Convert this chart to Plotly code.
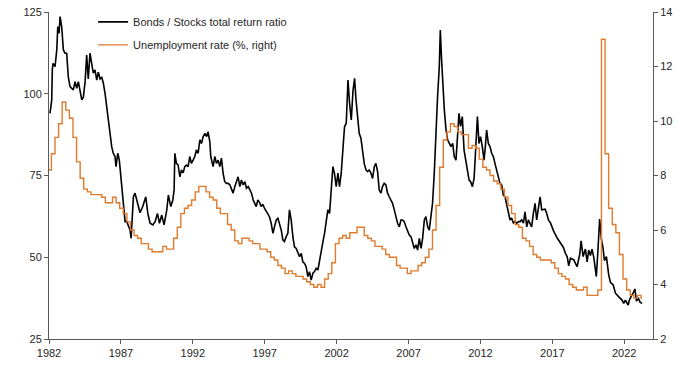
import plotly.graph_objects as go

# ---------------- data ----------------
# Bonds / Stocks total return ratio (left axis), decimal-year dates
ratio_dates = [
    1982.07, 1982.19, 1982.23, 1982.28, 1982.42, 1982.54, 1982.61, 1982.70, 1982.77, 1982.88,
    1983.00, 1983.11, 1983.23, 1983.34, 1983.46, 1983.58, 1983.69, 1983.81, 1983.93, 1984.04,
    1984.16, 1984.28, 1984.39, 1984.51, 1984.62, 1984.73, 1984.85, 1984.97, 1985.08, 1985.20,
    1985.32, 1985.43, 1985.55, 1985.67, 1985.78, 1985.90, 1986.02, 1986.13, 1986.25, 1986.36,
    1986.47, 1986.59, 1986.66, 1986.78, 1986.89, 1987.01, 1987.17, 1987.29, 1987.41, 1987.52,
    1987.64, 1987.71, 1987.80, 1987.87, 1987.98, 1988.10, 1988.21, 1988.33, 1988.52, 1988.73,
    1988.87, 1989.03, 1989.22, 1989.38, 1989.54, 1989.68, 1989.84, 1990.00, 1990.19, 1990.30,
    1990.47, 1990.61, 1990.70, 1990.75, 1990.86, 1990.98, 1991.10, 1991.21, 1991.33, 1991.44,
    1991.55, 1991.67, 1991.79, 1991.90, 1992.02, 1992.14, 1992.25, 1992.37, 1992.49, 1992.60,
    1992.72, 1992.84, 1992.96, 1993.06, 1993.18, 1993.25, 1993.41, 1993.53, 1993.64, 1993.76,
    1993.88, 1993.99, 1994.11, 1994.22, 1994.34, 1994.46, 1994.58, 1994.69, 1994.80, 1994.92,
    1995.03, 1995.15, 1995.27, 1995.38, 1995.50, 1995.62, 1995.73, 1995.85, 1995.97, 1996.08,
    1996.20, 1996.41, 1996.52, 1996.64, 1996.75, 1996.87, 1996.98, 1997.10, 1997.22, 1997.33,
    1997.45, 1997.57, 1997.68, 1997.80, 1997.92, 1998.03, 1998.15, 1998.26, 1998.37, 1998.49,
    1998.61, 1998.72, 1998.84, 1998.96, 1999.07, 1999.19, 1999.31, 1999.42, 1999.54, 1999.65,
    1999.77, 1999.88, 2000.00, 2000.11, 2000.23, 2000.35, 2000.46, 2000.58, 2000.70, 2000.81,
    2000.93, 2001.05, 2001.16, 2001.28, 2001.39, 2001.51, 2001.62, 2001.74, 2001.85, 2001.97,
    2002.09, 2002.20, 2002.32, 2002.44, 2002.55, 2002.67, 2002.79, 2002.90, 2003.02, 2003.14,
    2003.25, 2003.35, 2003.45, 2003.57, 2003.69, 2003.80, 2003.92, 2004.04, 2004.15, 2004.27,
    2004.39, 2004.50, 2004.62, 2004.73, 2004.85, 2004.96, 2005.08, 2005.19, 2005.31, 2005.43,
    2005.54, 2005.66, 2005.78, 2005.89, 2006.01, 2006.13, 2006.24, 2006.36, 2006.47, 2006.59,
    2006.70, 2006.82, 2006.93, 2007.05, 2007.17, 2007.28, 2007.40, 2007.52, 2007.63, 2007.75,
    2007.87, 2007.98, 2008.10, 2008.21, 2008.33, 2008.44, 2008.56, 2008.67, 2008.79, 2008.91,
    2009.02, 2009.14, 2009.21, 2009.30, 2009.37, 2009.49, 2009.61, 2009.72, 2009.84, 2009.95,
    2010.07, 2010.18, 2010.30, 2010.41, 2010.51, 2010.62, 2010.74, 2010.86, 2010.97, 2011.09,
    2011.21, 2011.32, 2011.44, 2011.56, 2011.67, 2011.79, 2011.90, 2012.01, 2012.13, 2012.25,
    2012.34, 2012.43, 2012.55, 2012.67, 2012.78, 2012.90, 2013.01, 2013.13, 2013.25, 2013.36,
    2013.48, 2013.59, 2013.71, 2013.82, 2013.94, 2014.06, 2014.17, 2014.29, 2014.41, 2014.52,
    2014.64, 2014.76, 2014.87, 2014.99, 2015.10, 2015.22, 2015.33, 2015.45, 2015.56, 2015.68,
    2015.80, 2015.91, 2016.03, 2016.15, 2016.26, 2016.38, 2016.50, 2016.61, 2016.73, 2016.87,
    2017.09, 2017.35, 2017.58, 2017.77, 2017.91, 2018.03, 2018.14, 2018.26, 2018.49, 2018.72,
    2018.90, 2019.00, 2019.14, 2019.30, 2019.42, 2019.53, 2019.65, 2019.76, 2019.88, 2019.99,
    2020.06, 2020.17, 2020.29, 2020.41, 2020.53, 2020.62, 2020.76, 2020.92, 2021.04, 2021.23,
    2021.39, 2021.62, 2021.85, 2021.96, 2022.08, 2022.27, 2022.36, 2022.50, 2022.62, 2022.74,
    2022.85, 2022.99, 2023.11, 2023.25,
]
ratio_values = [
    94.0, 98.1, 107.3, 109.3, 108.3, 113.4, 120.5, 118.5, 123.6, 120.5,
    113.4, 112.4, 112.4, 105.2, 102.2, 101.5, 101.2, 103.7, 101.7, 103.7,
    101.0, 98.1, 99.0, 103.7, 111.8, 104.5, 112.4, 109.6, 106.3, 107.3,
    104.2, 106.6, 104.5, 105.0, 103.2, 100.0, 96.0, 92.0, 86.9, 83.8,
    81.8, 80.8, 77.7, 81.8, 79.7, 73.6, 67.5, 60.9, 60.9, 59.9,
    58.3, 55.8, 63.3, 68.5, 69.6, 67.5, 66.0, 63.6, 65.5, 68.5,
    63.4, 60.4, 59.9, 60.9, 63.4, 60.4, 62.9, 59.9, 64.5, 69.0,
    65.5, 67.5, 70.6, 81.8, 78.7, 78.2, 74.6, 76.7, 75.8, 77.7,
    78.2, 77.7, 80.8, 78.7, 79.7, 80.8, 82.8, 81.8, 85.9, 84.8,
    86.9, 87.9, 86.9, 88.4, 85.4, 80.8, 77.7, 80.8, 78.7, 79.7,
    77.7, 80.3, 75.6, 73.1, 72.6, 72.6, 72.1, 70.6, 69.6, 71.6,
    73.1, 74.6, 71.6, 73.6, 72.1, 73.1, 71.1, 71.6, 70.6, 69.6,
    67.5, 65.5, 67.5, 66.8, 65.5, 66.2, 65.0, 64.2, 63.4, 62.4,
    60.4, 57.3, 59.3, 61.4, 61.9, 60.4, 58.3, 55.3, 54.8, 56.3,
    57.3, 64.5, 61.4, 56.2, 53.2, 52.7, 51.2, 50.2, 51.2, 48.6,
    48.1, 47.1, 44.1, 45.6, 43.0, 45.1, 45.6, 46.6, 46.1, 49.2,
    51.2, 54.8, 57.3, 60.4, 64.5, 63.4, 71.6, 77.7, 75.7, 71.6,
    75.7, 71.6, 75.7, 83.8, 89.9, 91.0, 104.2, 97.1, 92.0, 101.0,
    104.7, 98.1, 93.0, 87.9, 86.4, 82.8, 78.7, 76.7, 76.2, 76.7,
    75.7, 74.1, 77.7, 78.7, 76.2, 70.6, 69.6, 71.6, 72.6, 72.1,
    69.6, 68.5, 67.5, 66.5, 64.5, 62.4, 60.4, 59.3, 61.4, 61.4,
    60.9, 59.3, 58.3, 56.8, 56.3, 54.3, 52.7, 53.8, 52.2, 55.8,
    52.7, 55.8, 61.4, 62.4, 59.3, 58.3, 63.4, 66.5, 75.7, 89.9,
    99.1, 108.3, 119.5, 110.3, 103.2, 95.0, 88.9, 85.9, 84.8, 83.8,
    84.8, 80.8, 79.7, 87.9, 94.0, 90.0, 93.0, 82.8, 80.0, 76.7,
    73.6, 73.1, 71.6, 74.1, 81.8, 93.0, 84.8, 86.9, 83.8, 79.7,
    83.8, 88.9, 84.8, 83.8, 81.8, 80.8, 78.7, 76.7, 74.6, 72.6,
    72.1, 69.0, 68.5, 66.5, 63.4, 61.4, 62.0, 60.4, 61.0, 60.4,
    60.9, 60.9, 61.4, 60.4, 63.9, 59.3, 61.4, 60.4, 59.3, 63.4,
    66.5, 61.4, 64.5, 68.5, 64.5, 64.5, 64.7, 63.4, 61.4, 60.5,
    58.0, 55.8, 54.3, 53.0, 51.2, 50.2, 47.4, 49.7, 49.2, 47.1,
    50.7, 55.0, 50.2, 52.5, 48.6, 52.2, 50.5, 52.5, 50.0, 47.1,
    44.1, 52.0, 61.7, 55.6, 52.7, 49.0, 50.2, 44.6, 42.3, 41.5,
    39.0, 37.9, 36.9, 35.9, 36.9, 35.4, 37.0, 38.2, 39.0, 40.3,
    36.6, 37.4, 36.2, 35.9,
]

# Unemployment rate (%, right axis), quarterly values from 1981 Q4
unemp_first_quarter = (1981, 4)
unemp_values = [
    8.2,
    8.8, 9.4, 9.9, 10.7,
    10.4, 10.1, 9.4, 8.5,
    7.9, 7.5, 7.4, 7.3,
    7.3, 7.3, 7.2, 7.0,
    7.0, 7.2, 7.0, 6.8,
    6.6, 6.3, 6.0, 5.8,
    5.7, 5.5, 5.5, 5.3,
    5.2, 5.2, 5.2, 5.4,
    5.3, 5.3, 5.7, 6.1,
    6.6, 6.8, 6.9, 7.1,
    7.4, 7.6, 7.6, 7.4,
    7.2, 7.1, 6.8, 6.6,
    6.6, 6.2, 6.0, 5.6,
    5.5, 5.7, 5.7, 5.6,
    5.5, 5.5, 5.3, 5.3,
    5.2, 5.0, 4.9, 4.7,
    4.6, 4.4, 4.5, 4.4,
    4.3, 4.3, 4.2, 4.1,
    4.0, 3.9, 4.0, 3.9,
    4.2, 4.4, 4.8, 5.5,
    5.7, 5.8, 5.7, 5.9,
    5.9, 6.1, 6.1, 5.8,
    5.7, 5.6, 5.4, 5.4,
    5.3, 5.1, 5.0, 5.0,
    4.7, 4.6, 4.6, 4.4,
    4.5, 4.5, 4.7, 4.8,
    5.0, 5.3, 6.0, 6.9,
    8.3, 9.3, 9.6, 9.9,
    9.8, 9.6, 9.5, 9.5,
    9.0, 9.1, 9.0, 8.6,
    8.3, 8.2, 8.0, 7.8,
    7.7, 7.5, 7.2, 6.9,
    6.6, 6.2, 6.1, 5.7,
    5.6, 5.4, 5.1, 5.0,
    4.9, 4.9, 4.9, 4.8,
    4.6, 4.4, 4.3, 4.2,
    4.0, 3.9, 3.8, 3.8,
    3.9, 3.6, 3.6, 3.6,
    3.8, 13.0, 8.8, 6.8,
    6.2, 5.9, 5.1, 4.2,
    3.8, 3.6, 3.5, 3.6,
    3.5,
]
release_lag_years = 2 / 12  # quarterly figure shown from 2 months into the quarter

x_ticks = [1982, 1987, 1992, 1997, 2002, 2007, 2012, 2017, 2022]
x_range = [1982, 2024]
left_ticks = [25, 50, 75, 100, 125]
right_ticks = [2, 4, 6, 8, 10, 12, 14]

series_names = ["Bonds / Stocks total return ratio", "Unemployment rate (%, right)"]

# ---------------- build ----------------
y0, q0 = unemp_first_quarter
unemp_dates = [y0 + (q0 - 1 + i) * 0.25 + release_lag_years for i in range(len(unemp_values))]
unemp_x = unemp_dates + [ratio_dates[-1]]
unemp_y = unemp_values + [unemp_values[-1]]

FONT = "Liberation Sans, Arial, sans-serif"
AXIS_COLOR = "#595959"
TEXT_COLOR = "#262626"
ORANGE = "#E07A2C"

fig = go.Figure()
fig.add_trace(go.Scatter(
    x=ratio_dates, y=ratio_values, mode="lines", name=series_names[0],
    line=dict(color="#000000", width=1.6), yaxis="y", legendgroup="a",
))
fig.add_trace(go.Scatter(
    x=unemp_x, y=unemp_y, mode="lines", name=series_names[1],
    line=dict(color=ORANGE, width=1.4, shape="hv"), yaxis="y2", legendgroup="b",
))

fig.update_layout(
    width=680, height=379,
    margin=dict(l=49, r=27, t=12, b=40, autoexpand=False),
    paper_bgcolor="white", plot_bgcolor="white",
    font=dict(family=FONT, size=11, color=TEXT_COLOR),
    showlegend=True,
    legend=dict(
        x=0.073, y=1.014, xanchor="left", yanchor="top",
        bgcolor="rgba(0,0,0,0)", itemwidth=30, tracegroupgap=4,
        font=dict(family=FONT, size=11, color=TEXT_COLOR),
        traceorder="grouped",
    ),
    xaxis=dict(
        range=x_range, tickvals=x_ticks, ticktext=[str(v) for v in x_ticks],
        showgrid=False, zeroline=False, showline=True, linecolor=AXIS_COLOR, linewidth=1,
        ticks="outside", ticklen=4, tickcolor=AXIS_COLOR, automargin=False,
    ),
    yaxis=dict(
        range=[25, 125], tickvals=left_ticks,
        showgrid=False, zeroline=False, showline=True, linecolor=AXIS_COLOR, linewidth=1,
        ticks="outside", ticklen=4, tickcolor=AXIS_COLOR, automargin=False,
    ),
    yaxis2=dict(
        range=[2, 14], tickvals=right_ticks, overlaying="y", side="right",
        showgrid=False, zeroline=False, showline=True, linecolor=AXIS_COLOR, linewidth=1,
        ticks="outside", ticklen=4, tickcolor=AXIS_COLOR, automargin=False,
    ),
)

# remove the browser's default 8px page margin so the 680x379 figure fills the window
fig.write_html(
    "out.html",
    config={"displayModeBar": False},
    post_script="document.body.style.margin='0';",
)
